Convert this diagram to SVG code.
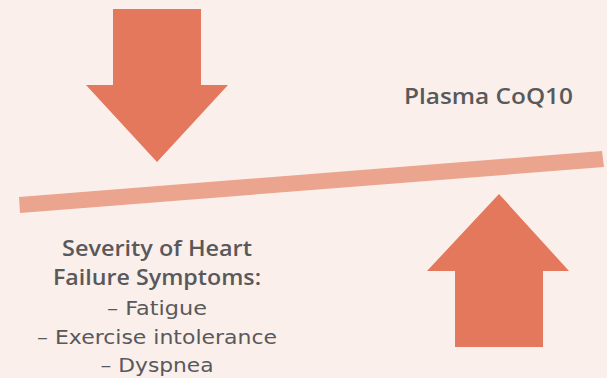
<svg xmlns="http://www.w3.org/2000/svg" width="607" height="378" viewBox="0 0 607 378">
<style>
.arrow{fill:#E3785D}
.bar{fill:#EBA48E}
text{font-family:"DejaVu Sans","Liberation Sans",sans-serif;fill:#58595B;text-anchor:middle;font-size:19.5px}
.b{font-family:"Open Sans","Liberation Sans",sans-serif;font-weight:600;font-size:21px}
</style>
<rect width="607" height="378" fill="#FBEFEB"/>
<g id="down-arrow"><polygon class="arrow" points="113,9 201,9 201,85 228,85 157,162 86,85 113,85"/></g>
<g id="up-arrow"><polygon class="arrow" points="499,194 569,271 543,271 543,347 455,347 455,271 427,271"/></g>
<g id="balance-bar"><polygon class="bar" points="19,197 602,151 604,167 20,213"/></g>
<g id="plasma-label"><text x="488.5" y="104" class="b" textLength="169" lengthAdjust="spacingAndGlyphs">Plasma CoQ10</text></g>
<g id="symptoms-label">
<text x="157" y="256" class="b" textLength="190" lengthAdjust="spacingAndGlyphs">Severity of Heart</text>
<text x="157" y="285" class="b" textLength="208" lengthAdjust="spacingAndGlyphs">Failure Symptoms:</text>
<text x="157" y="315" textLength="100" lengthAdjust="spacingAndGlyphs">– Fatigue</text>
<text x="157" y="344" textLength="240" lengthAdjust="spacingAndGlyphs">– Exercise intolerance</text>
<text x="157" y="372" textLength="113" lengthAdjust="spacingAndGlyphs">– Dyspnea</text>
</g>
<g id="connectors"></g>
</svg>
